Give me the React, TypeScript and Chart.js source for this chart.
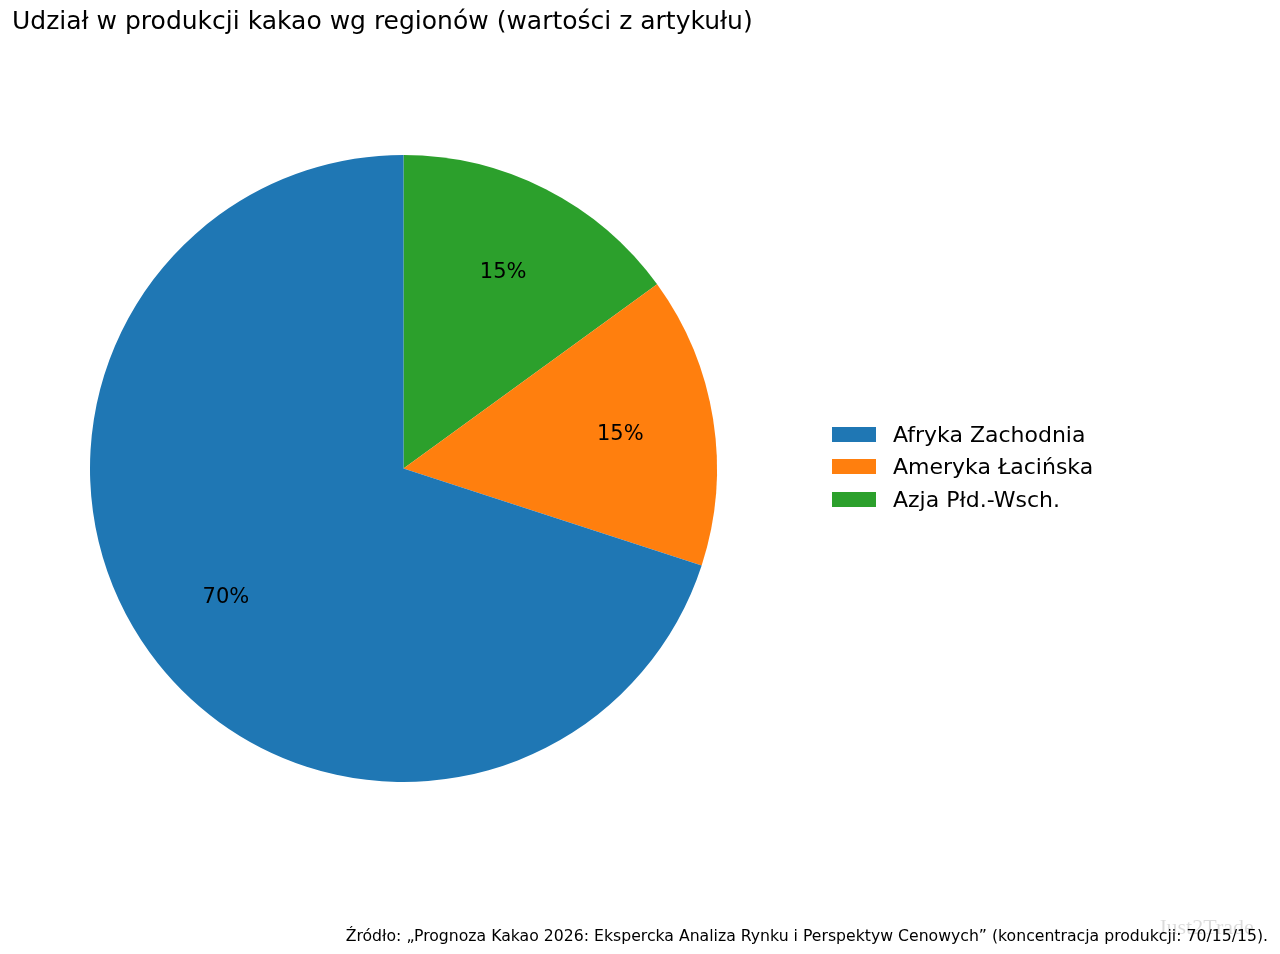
import { useEffect, useRef } from "react"
import { Chart, registerables } from "chart.js"

Chart.register(...registerables)

const regions = ["Afryka Zachodnia", "Ameryka Łacińska", "Azja Płd.-Wsch."]
const shares = [70, 15, 15]
const colors = ["#1f77b4", "#ff7f0e", "#2ca02c"]

const title = "Udział w produkcji kakao wg regionów (wartości z artykułu)"
const source =
  "Źródło: „Prognoza Kakao 2026: Ekspercka Analiza Rynku i Perspektyw Cenowych” (koncentracja produkcji: 70/15/15)."

const FONT = "'DejaVu Sans', sans-serif"

// percentage labels inside slices, like matplotlib autopct (pctdistance 0.7)
const pctLabels = {
  id: "pctLabels",
  afterDatasetsDraw(chart: any) {
    const ctx = chart.ctx
    const meta = chart.getDatasetMeta(0)
    const total = chart.data.datasets[0].data.reduce((a: number, b: number) => a + b, 0)
    ctx.save()
    ctx.font = `21px ${FONT}`
    ctx.fillStyle = "#000"
    ctx.textAlign = "center"
    ctx.textBaseline = "middle"
    meta.data.forEach((arc: any, i: number) => {
      const { x, y, startAngle, endAngle, outerRadius } = arc.getProps(
        ["x", "y", "startAngle", "endAngle", "outerRadius"], true)
      const mid = (startAngle + endAngle) / 2
      const r = outerRadius * 0.7
      const v = chart.data.datasets[0].data[i]
      ctx.fillText(`${Math.round((v / total) * 100)}%`, x + Math.cos(mid) * r, y + Math.sin(mid) * r)
    })
    ctx.restore()
  },
}

function PieChart() {
  const ref = useRef<HTMLCanvasElement>(null)

  useEffect(() => {
    if (!ref.current) return
    // matplotlib draws counter-clockwise from the top, Chart.js clockwise: reverse the order
    const chart = new Chart(ref.current, {
      type: "pie",
      data: {
        labels: [...regions].reverse(),
        datasets: [{
          data: [...shares].reverse(),
          backgroundColor: [...colors].reverse(),
          borderWidth: 0,
        }],
      },
      options: {
        responsive: false,
        animation: false,
        layout: { padding: { left: 90, top: 155, right: 563, bottom: 172 } },
        plugins: {
          legend: { display: false },
          tooltip: { enabled: false },
        },
      },
      plugins: [pctLabels],
    })
    return () => { chart.destroy() }
  }, [])

  return <canvas ref={ref} width={1280} height={954} style={{ position: "absolute", left: 0, top: 0 }} />
}

export default function App() {
  useEffect(() => {
    document.body.style.margin = "0"
  }, [])

  return (
    <div style={{ position: "relative", width: 1280, height: 954, background: "#fff", fontFamily: FONT, color: "#000", overflow: "hidden" }}>
      <PieChart />
      <div style={{ position: "absolute", left: 12, top: 6, fontSize: 25, whiteSpace: "nowrap" }}>{title}</div>
      <div style={{ position: "absolute", left: 832, top: 418 }}>
        {regions.map((r, i) => (
          <div key={r} style={{ display: "flex", alignItems: "center", height: 32.5 }}>
            <span style={{ width: 44, height: 15, background: colors[i], marginRight: 17, display: "inline-block" }} />
            <span style={{ fontSize: 22, whiteSpace: "nowrap" }}>{r}</span>
          </div>
        ))}
      </div>
      <div style={{ position: "absolute", right: 12, top: 926, fontSize: 15.7, whiteSpace: "nowrap" }}>{source}</div>
      <div style={{ position: "absolute", left: 1158, top: 914, fontSize: 22, fontFamily: "'Liberation Serif', serif", color: "rgba(0,0,0,0.14)", whiteSpace: "nowrap" }}>Just2Trade</div>
    </div>
  )
}
